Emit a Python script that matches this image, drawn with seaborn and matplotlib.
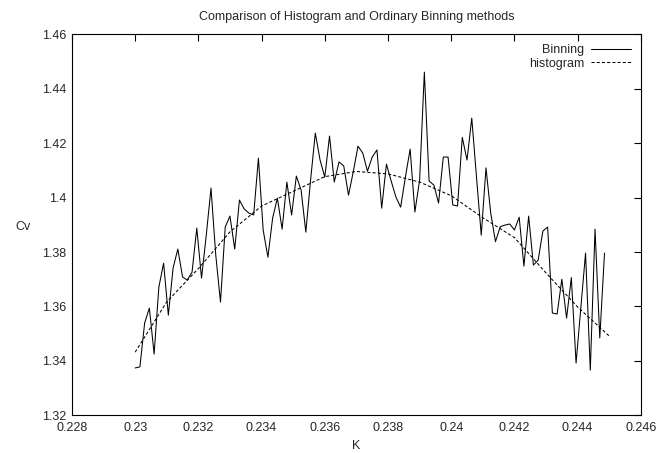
import numpy as np
import pandas as pd
import matplotlib
matplotlib.use("Agg")
import matplotlib.pyplot as plt
import seaborn as sns

# Coupling values K (regular grid of the run) and specific heat estimates
K = np.linspace(0.230, 0.24485, 100)

cv_binning = [
    1.3374, 1.3378, 1.3539, 1.3594, 1.3425, 1.3671, 1.3759, 1.3568, 1.3741, 1.3811,
    1.3708, 1.3697, 1.3726, 1.3888, 1.3704, 1.3862, 1.4035, 1.3789, 1.3616, 1.3892,
    1.3932, 1.3811, 1.3991, 1.3958, 1.3943, 1.3936, 1.4145, 1.3881, 1.3781, 1.3925,
    1.3998, 1.3884, 1.4057, 1.3936, 1.4079, 1.4028, 1.3873, 1.4064, 1.4237, 1.4138,
    1.4075, 1.4226, 1.4057, 1.4131, 1.4116, 1.4009, 1.4094, 1.4189, 1.4164, 1.4097,
    1.4149, 1.4175, 1.3961, 1.4123, 1.4061, 1.4002, 1.3965, 1.4075, 1.4178, 1.3947,
    1.4064, 1.4461, 1.4061, 1.4046, 1.3980, 1.4149, 1.4149, 1.3973, 1.3969, 1.4221,
    1.4138, 1.4292, 1.4075, 1.3862, 1.4109, 1.3943, 1.3838, 1.3893, 1.3899, 1.3903,
    1.3881, 1.3928, 1.3748, 1.3932, 1.3752, 1.3770, 1.3877, 1.3892, 1.3576, 1.3572,
    1.3700, 1.3557, 1.3706, 1.3392, 1.3594, 1.3796, 1.3366, 1.3884, 1.3484, 1.3796,
]

K_hist = [0.230, 0.231, 0.232, 0.233, 0.234, 0.235, 0.236, 0.237,
          0.238, 0.239, 0.240, 0.241, 0.242, 0.243, 0.244, 0.245]
cv_hist = [1.3432, 1.3617, 1.3739, 1.3874, 1.3969, 1.4023, 1.4077, 1.4096,
           1.4087, 1.4057, 1.4007, 1.3926, 1.3853, 1.3723, 1.3598, 1.3491]

x_ticks = [0.228, 0.230, 0.232, 0.234, 0.236, 0.238, 0.240, 0.242, 0.244, 0.246]
x_tick_labels = ["0.228", "0.23", "0.232", "0.234", "0.236", "0.238",
                 "0.24", "0.242", "0.244", "0.246"]
y_ticks = [1.32, 1.34, 1.36, 1.38, 1.40, 1.42, 1.44, 1.46]
y_tick_labels = ["1.32", "1.34", "1.36", "1.38", "1.4", "1.42", "1.44", "1.46"]

sns.set_style("white")
plt.rcParams["font.family"] = ["Liberation Sans", "DejaVu Sans"]
plt.rcParams["font.size"] = 9

fig = plt.figure(figsize=(6.6, 4.53), dpi=100)
ax = fig.add_axes([0.109, 0.0832, 0.862, 0.8411])

df_bin = pd.DataFrame({"K": K, "Cv": cv_binning})
df_hist = pd.DataFrame({"K": K_hist, "Cv": cv_hist})

sns.lineplot(data=df_bin, x="K", y="Cv", ax=ax, color="black",
             linewidth=0.75, label="Binning")
sns.lineplot(data=df_hist, x="K", y="Cv", ax=ax, color="black",
             linewidth=0.75, linestyle=(0, (3, 2)), label="histogram")

ax.set_xlim(0.228, 0.246)
ax.set_ylim(1.32, 1.46)
ax.set_xticks(x_ticks)
ax.set_xticklabels(x_tick_labels)
ax.set_yticks(y_ticks)
ax.set_yticklabels(y_tick_labels)

ax.tick_params(direction="in", length=5, width=0.8, color="black",
               top=True, right=True, labelsize=9, pad=4)
ax.tick_params(axis="x", pad=5)
for side in ax.spines.values():
    side.set_visible(True)
    side.set_color("black")
    side.set_linewidth(0.8)

ax.set_xlabel("K", fontsize=9, labelpad=4)
ax.set_ylabel("")
fig.text(0.035, 0.5, "Cv", fontsize=9, ha="center", va="center")
fig.text(0.54, 0.962, "Comparison of Histogram and Ordinary Binning methods",
         fontsize=9, ha="center", va="center")

leg = ax.legend(loc="upper right", frameon=False, markerfirst=False,
                handlelength=3.2, handletextpad=0.5, labelspacing=0.1,
                borderaxespad=0.6, borderpad=0.2, fontsize=9)

fig.savefig("out.png", dpi=100, facecolor="white")
